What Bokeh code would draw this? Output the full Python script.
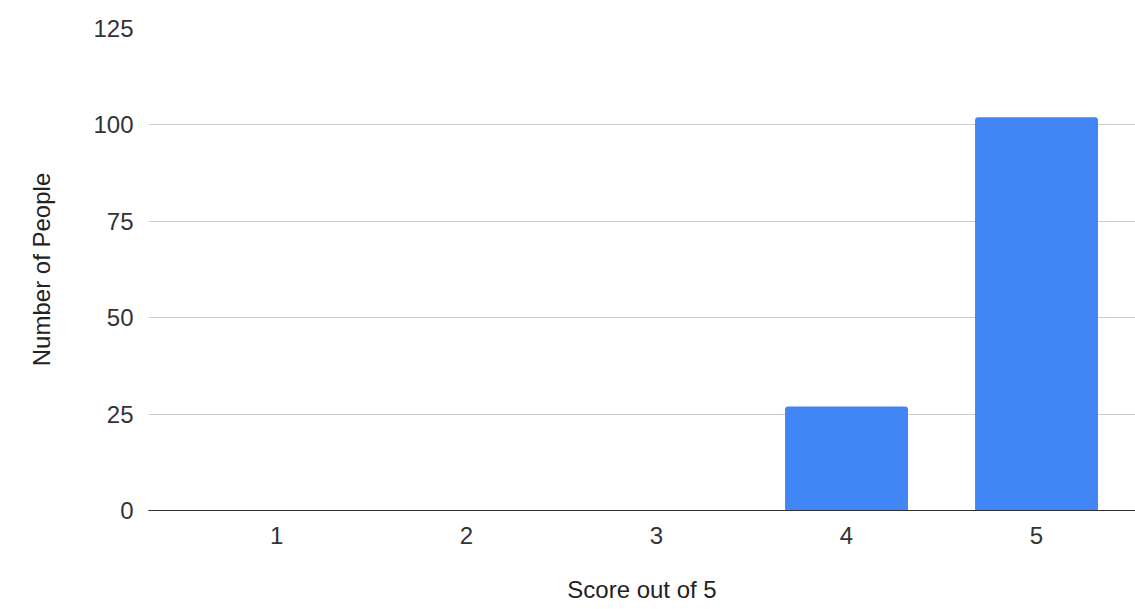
from bokeh.plotting import figure
from bokeh.models import Range1d, FixedTicker, Span, ColumnDataSource
from bokeh.embed import file_html
from bokeh.resources import INLINE

scores = [1, 2, 3, 4, 5]
counts = [0, 0, 0, 27, 102]
y_ticks = [0, 25, 50, 75, 100, 125]
x_title = "Score out of 5"
y_title = "Number of People"

src = ColumnDataSource(dict(x=scores, top=counts))

p = figure(width=1135, height=609, output_backend="svg", toolbar_location=None,
           x_range=Range1d(0.326, 5.521), y_range=Range1d(0, 125),
           min_border_left=148, min_border_right=0, min_border_top=28, min_border_bottom=99)
p.outline_line_color = None
p.background_fill_color = "white"
p.border_fill_color = "white"

p.vbar(x="x", top="top", width=0.647, source=src, fill_color="#4285F4",
       line_color=None, border_radius=(3, 3, 0, 0))

p.xgrid.grid_line_color = None
p.ygrid.grid_line_color = "#cccccc"
p.ygrid.ticker = FixedTicker(ticks=y_ticks)

for ax in (p.xaxis[0], p.yaxis[0]):
    ax.major_tick_line_color = None
    ax.minor_tick_line_color = None
    ax.major_label_text_font = "Liberation Sans"
    ax.major_label_text_font_size = "24px"
    ax.major_label_text_color = "#333333"
    ax.axis_label_text_font = "Liberation Sans"
    ax.axis_label_text_font_size = "24px"
    ax.axis_label_text_font_style = "normal"
    ax.axis_label_text_color = "#222222"

p.yaxis.ticker = FixedTicker(ticks=y_ticks)
p.yaxis.axis_line_color = None
p.yaxis.major_label_standoff = 9
p.yaxis.axis_label = y_title
p.yaxis.axis_label_standoff = 35

p.xaxis.ticker = FixedTicker(ticks=scores)
p.xaxis.axis_line_color = "#333333"
p.xaxis.axis_line_width = 1
p.xaxis.major_label_standoff = 10
p.xaxis.axis_label = x_title
p.xaxis.axis_label_standoff = 29

p.add_layout(Span(location=0, dimension="width", line_color="#333333", line_width=1))

open("out.html", "w").write(file_html(p, INLINE))
